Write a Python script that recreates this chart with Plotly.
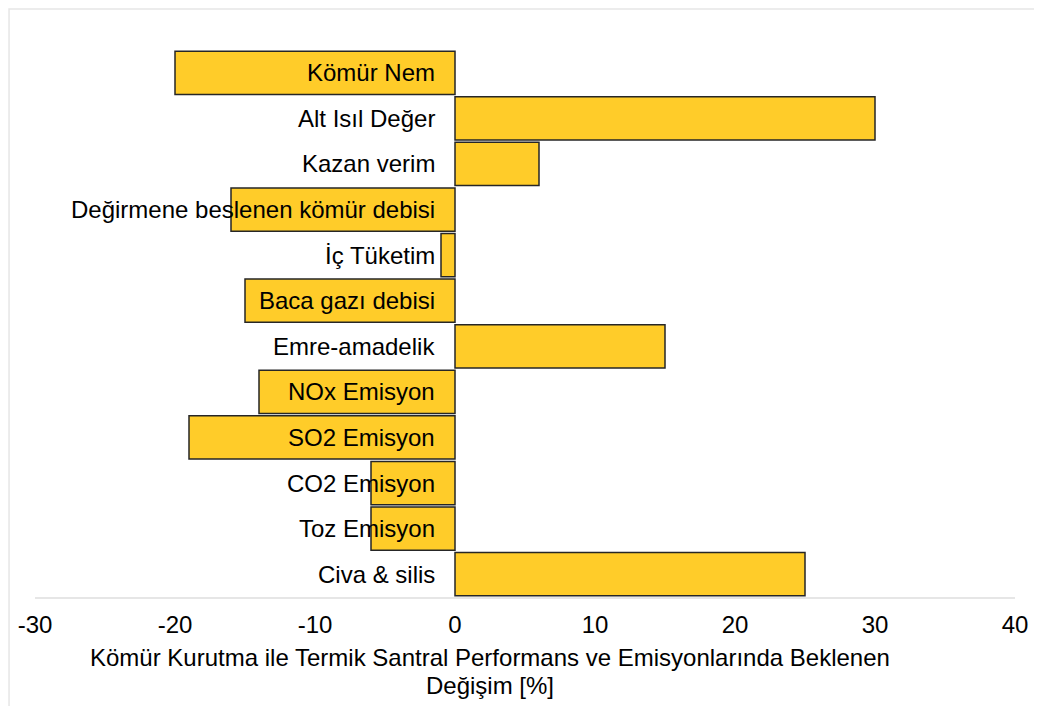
import plotly.graph_objects as go

categories = ["Kömür Nem", "Alt Isıl Değer", "Kazan verim", "Değirmene beslenen kömür debisi",
              "İç Tüketim", "Baca gazı debisi", "Emre-amadelik", "NOx Emisyon",
              "SO2 Emisyon", "CO2 Emisyon", "Toz Emisyon", "Civa & silis"]
values = [-20, 30, 6, -16, -1, -15, 15, -14, -19, -6, -6, 25]
tick_vals = [-30, -20, -10, 0, 10, 20, 30, 40]
x_title_lines = ["Kömür Kurutma ile Termik Santral Performans ve Emisyonlarında Beklenen",
                 "Değişim [%]"]

font = "Liberation Sans, Arial, sans-serif"

fig = go.Figure()
fig.add_trace(go.Bar(
    y=categories, x=values, orientation="h",
    marker=dict(color="#FFCC29", line=dict(color="#262626", width=1.5)),
    hoverinfo="x+y",
))

for c in categories:
    fig.add_annotation(x=0, y=c, xref="x", yref="y", text=c, showarrow=False,
                       xanchor="right", xshift=-18, font=dict(size=24, color="#000000", family=font))

for line, ypos in zip(x_title_lines, [-0.1115, -0.1609]):
    fig.add_annotation(x=0.464, y=ypos, xref="paper", yref="paper", text=line, showarrow=False,
                       xanchor="center", yanchor="middle",
                       font=dict(size=24, color="#000000", family=font))

fig.add_shape(type="rect", xref="paper", yref="paper",
              x0=-0.0265, x1=1.0255, y0=-0.4, y1=1.075,
              line=dict(color="#e6e6e6", width=1.5), fillcolor="rgba(0,0,0,0)", layer="below")

fig.update_layout(
    width=1042, height=706,
    margin=dict(l=27, r=35, t=42, b=117, autoexpand=False),
    paper_bgcolor="white", plot_bgcolor="white",
    showlegend=False, bargap=0.05,
    font=dict(family=font, size=24, color="#000000"),
    xaxis=dict(range=[-30, 40], tickvals=tick_vals, ticktext=[str(v) for v in tick_vals],
               showgrid=False, zeroline=False, showline=True, linecolor="#e6e6e6", linewidth=1.5,
               ticks="", ticklabelstandoff=5,
               tickfont=dict(size=24)),
    yaxis=dict(autorange="reversed", showticklabels=False, showgrid=False, zeroline=False,
               showline=False, ticks=""),
)

fig.write_html("out.html")
